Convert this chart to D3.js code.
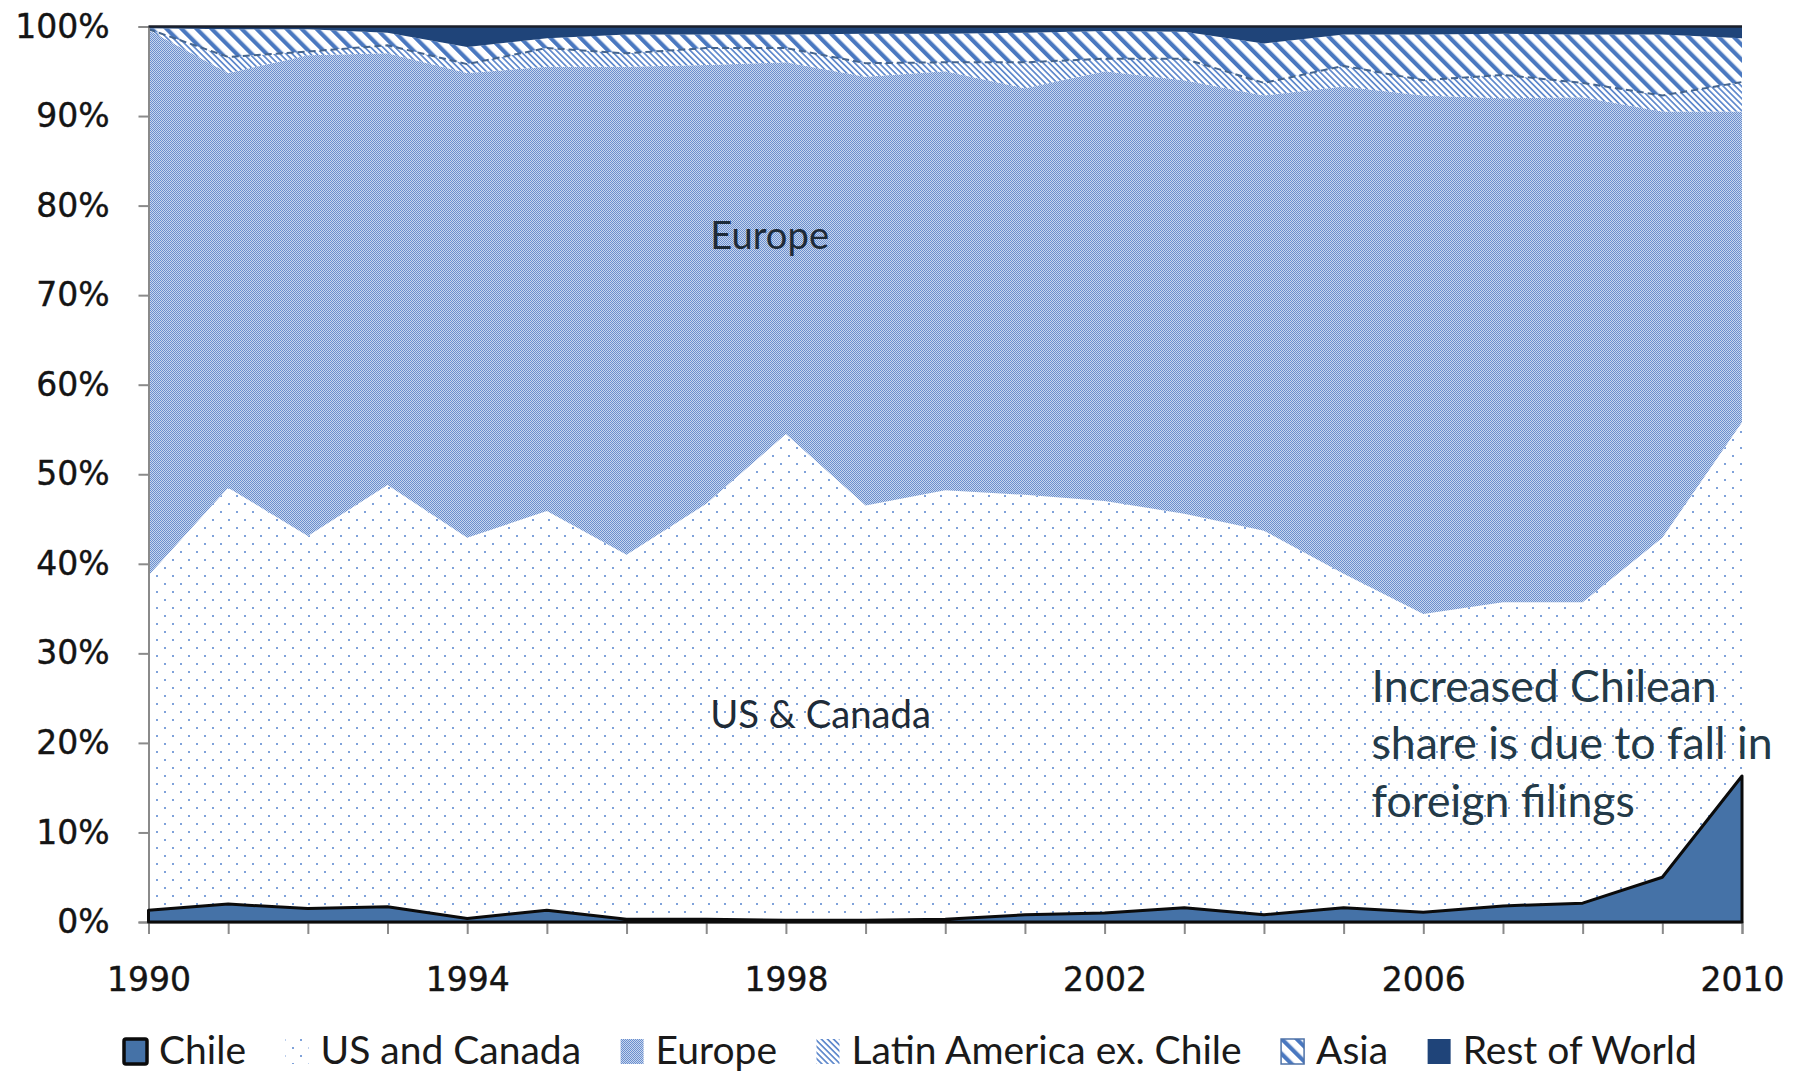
<!DOCTYPE html>
<html>
<head>
<meta charset="utf-8">
<script src="https://cdn.jsdelivr.net/npm/d3@7"></script>
<style>
  html, body { margin: 0; padding: 0; background: #ffffff; }
  svg { display: block; }
</style>
</head>
<body>
<svg id="chart" width="1805" height="1073"></svg>
<script>
// ---- data (shares in %) ----
const years = [1990,1991,1992,1993,1994,1995,1996,1997,1998,1999,2000,2001,2002,2003,2004,2005,2006,2007,2008,2009,2010];
const chile        = [1.3, 2.0, 1.5, 1.7, 0.4, 1.3, 0.3, 0.3, 0.2, 0.2, 0.3, 0.8, 1.0, 1.6, 0.8, 1.6, 1.1, 1.8, 2.1, 5.0, 16.3];
const usCanada     = [37.4,46.5,41.6,47.1,42.5,44.6,40.7,46.4,54.3,46.3,47.9,46.9,46.0,44.0,42.9,37.3,33.3,33.9,33.6,37.9,39.5];
const europe       = [60.9,46.3,53.7,48.2,51.9,49.6,54.5,49.0,41.5,47.9,46.8,45.4,48.0,48.4,48.6,54.4,57.9,56.3,56.4,47.6,34.7];
const latinAmerica = [0.1, 1.8, 0.4, 0.9, 1.0, 2.1, 1.5, 1.9, 1.6, 1.5, 1.0, 2.9, 1.4, 2.4, 1.4, 2.3, 1.7, 2.6, 1.6, 1.8, 3.3];
const asia         = [0.1, 3.1, 2.5, 1.4, 1.9, 1.1, 2.1, 1.5, 1.5, 3.3, 3.2, 3.3, 3.1, 3.0, 4.4, 3.5, 5.1, 4.6, 5.4, 6.8, 4.9];
const restOfWorld  = [0.2, 0.3, 0.3, 0.7, 2.3, 1.3, 0.9, 0.9, 0.9, 0.8, 0.8, 0.7, 0.5, 0.6, 1.9, 0.9, 0.9, 0.8, 0.9, 0.9, 1.3];
const seriesKeys   = ["chile","us","europe","latam","asia","row"];
const seriesNames  = ["Chile","US and Canada","Europe","Latin America ex. Chile","Asia","Rest of World"];
const yTicks = [0,10,20,30,40,50,60,70,80,90,100];
const xLabelYears = [1990,1994,1998,2002,2006,2010];
const annotations = [
  {text: ["Europe"], year: 1997.05, value: 75.1},
  {text: ["US & Canada"], year: 1997.05, value: 21.7},
  {text: ["Increased Chilean", "share is due to fall in", "foreign filings"], year: 2005.35, value: 24.6}
];

// ---- build table ----
const table = years.map((y, i) => ({
  year: y, chile: chile[i], us: usCanada[i], europe: europe[i],
  latam: latinAmerica[i], asia: asia[i], row: restOfWorld[i]
}));

const svg = d3.select("#chart");
const M = {left: 148.5, right: 1742, top: 26.5, bottom: 922};
const x = d3.scaleLinear().domain([1990, 2010]).range([M.left, M.right]);
const y = d3.scaleLinear().domain([0, 100]).range([M.bottom, M.top]);

// ---- patterns ----
const defs = svg.append("defs");
const pDots = defs.append("pattern").attr("id","pDots").attr("patternUnits","userSpaceOnUse")
  .attr("width",16).attr("height",16).attr("x",4).attr("y",7);
pDots.append("rect").attr("width",16).attr("height",16).attr("fill","#ffffff");
pDots.append("rect").attr("x",0).attr("y",0).attr("width",2).attr("height",2).attr("fill","#7fa2da");
pDots.append("rect").attr("x",8).attr("y",8).attr("width",2).attr("height",2).attr("fill","#7fa2da");
const pCheck = defs.append("pattern").attr("id","pCheck").attr("patternUnits","userSpaceOnUse")
  .attr("width",2).attr("height",2);
pCheck.append("rect").attr("width",2).attr("height",2).attr("fill","#c8d6ee");
pCheck.append("rect").attr("x",0).attr("y",0).attr("width",1).attr("height",1).attr("fill","#6a8fce");
pCheck.append("rect").attr("x",1).attr("y",1).attr("width",1).attr("height",1).attr("fill","#6a8fce");
const pFine = defs.append("pattern").attr("id","pFine").attr("patternUnits","userSpaceOnUse")
  .attr("width",4.3).attr("height",10).attr("patternTransform","rotate(-45)");
pFine.append("rect").attr("width",4.3).attr("height",10).attr("fill","#ffffff");
pFine.append("rect").attr("x",0).attr("y",0).attr("width",1.7).attr("height",10).attr("fill","#5f89cc");
const pWide = defs.append("pattern").attr("id","pWide").attr("patternUnits","userSpaceOnUse")
  .attr("width",10.6).attr("height",10).attr("patternTransform","rotate(-45)");
pWide.append("rect").attr("width",10.6).attr("height",10).attr("fill","#ffffff");
pWide.append("rect").attr("x",0).attr("y",0).attr("width",4.2).attr("height",10).attr("fill","#4a78c0");

const fills = {chile:"#4572a7", us:"url(#pDots)", europe:"url(#pCheck)", latam:"url(#pFine)", asia:"url(#pWide)", row:"#1f4479"};

// ---- stack ----
const stack = d3.stack().keys(seriesKeys);
const layers = stack(table);
const area = d3.area().x(d => x(d.data.year)).y0(d => y(d[0])).y1(d => y(d[1]));
const bottomLine = d3.line().x(d => x(d.data.year)).y(d => y(d[0]));

const gAreas = svg.append("g");
layers.forEach(L => {
  if (L.key === "chile") return;
  gAreas.append("path").attr("d", area(L)).attr("fill", fills[L.key]);
});
const asiaLayer = layers.find(L => L.key === "asia");
gAreas.append("path").attr("d", bottomLine(asiaLayer)).attr("fill","none")
  .attr("stroke","#44648e").attr("stroke-width",2).attr("stroke-dasharray","7,4");

// ---- axes ----
const axisColor = "#8a8a8a";
const tickFont = "'DejaVu Sans', Verdana, sans-serif";
const yAxis = d3.axisLeft(y).tickValues(yTicks).tickFormat(d => d + "%").tickSize(10).tickPadding(29);
const gy = svg.append("g").attr("transform", `translate(${M.left},0)`).call(yAxis);
gy.select(".domain").attr("stroke", axisColor).attr("stroke-width", 2);
gy.selectAll(".tick line").attr("stroke", axisColor).attr("stroke-width", 2);
gy.selectAll(".tick text").attr("font-family", tickFont).attr("font-size",33).attr("fill","#141414")
  .attr("stroke","#141414").attr("stroke-width",0.4);

const xAxis = d3.axisBottom(x).tickValues(years).tickSize(12).tickPadding(34)
  .tickFormat(d => xLabelYears.includes(d) ? String(d) : "");
const gx = svg.append("g").attr("transform", `translate(0,${M.bottom})`).call(xAxis);
gx.select(".domain").attr("stroke", axisColor).attr("stroke-width", 2);
gx.selectAll(".tick line").attr("stroke", axisColor).attr("stroke-width", 2);
gx.selectAll(".tick text").attr("font-family", tickFont).attr("font-size",33).attr("fill","#141414")
  .attr("stroke","#141414").attr("stroke-width",0.4);

// Chile on top with black outline
const chileLayer = layers.find(L => L.key === "chile");
svg.append("path").attr("d", area(chileLayer)).attr("fill", fills.chile)
  .attr("stroke","#0b0b0b").attr("stroke-width",3).attr("stroke-linejoin","round");

// top border line of plot
svg.append("line").attr("x1", M.left).attr("x2", M.right).attr("y1", M.top).attr("y2", M.top)
  .attr("stroke","#1b1f2a").attr("stroke-width",2.5);

// ---- annotations ----
const annFont = "Lato, 'Open Sans', sans-serif";
annotations.forEach((a, k) => {
  const size = k === 2 ? 44.6 : 38.2;
  const lh = 57.5;
  const t = svg.append("text").attr("font-family", annFont).attr("font-size", size)
    .attr("fill", k === 2 ? "#233a48" : "#1e2b38");
  a.text.forEach((line, j) => {
    t.append("tspan").attr("x", x(a.year)).attr("y", y(a.value) + j * lh).text(line);
  });
});

// ---- legend ----
const legFont = "Lato, 'Open Sans', sans-serif";
const legY = 1051;
let lx = 124;
const gLeg = svg.append("g");
seriesKeys.forEach((k, i) => {
  const g = gLeg.append("g");
  const r = g.append("rect").attr("x", lx).attr("y", legY - 12).attr("width", 23).attr("height", 25)
    .attr("fill", fills[k]);
  if (k === "chile") r.attr("stroke","#0b0b0b").attr("stroke-width",3.5).attr("rx",2);
  if (k === "asia") r.attr("stroke","#4d72a8").attr("stroke-width",1.5);
  const t = g.append("text").attr("x", lx + 35).attr("y", legY + 13).attr("font-family", legFont)
    .attr("font-size", 39).attr("fill","#1a1a1a").text(seriesNames[i]);
  const w = t.node().getComputedTextLength();
  lx = lx + 35 + w + 39.5;
});
</script>
</body>
</html>
